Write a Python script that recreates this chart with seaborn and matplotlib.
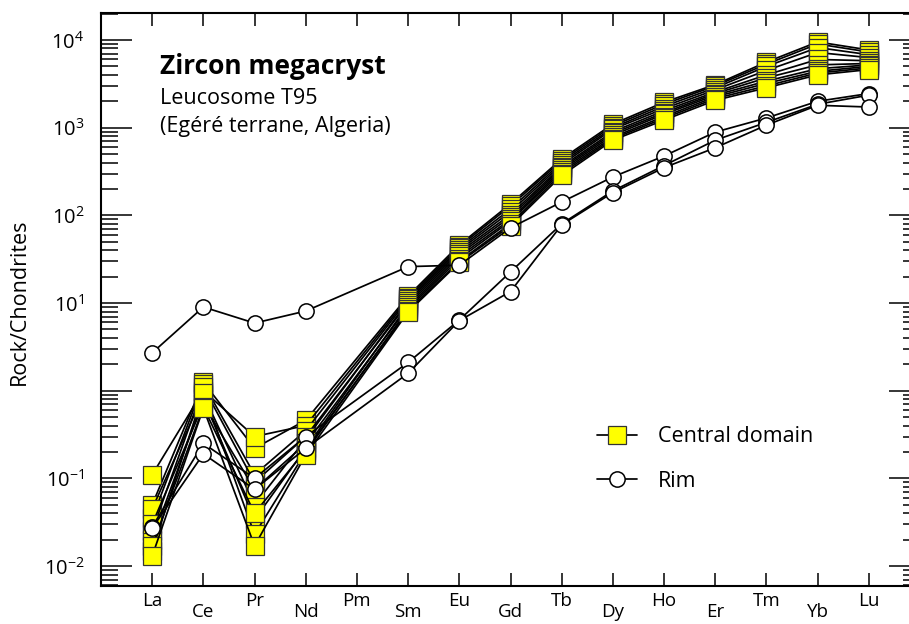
import numpy as np
import pandas as pd
import matplotlib
matplotlib.use("Agg")
import matplotlib.pyplot as plt
from matplotlib.lines import Line2D
from matplotlib.ticker import LogLocator, FixedLocator, FixedFormatter, NullFormatter
import seaborn as sns

# ---------------- data ----------------
elements = ["La", "Ce", "Pr", "Nd", "Pm", "Sm", "Eu", "Gd", "Tb", "Dy", "Ho", "Er", "Tm", "Yb", "Lu"]
nan = np.nan

# Central domain analyses (chondrite-normalised)
central_1 = [0.05, 1.25, 0.22, 0.46, nan, 12.0, 46, 135, 440, 1100, 1950, 3100, 5600, 9500, 7700]
central_2 = [0.11, 1.00, 0.30, 0.40, nan, 11.5, 44, 128, 420, 1050, 1850, 3000, 5300, 9000, 7300]
central_3 = [0.035, 1.20, 0.11, 0.35, nan, 11.0, 42, 118, 400, 1000, 1750, 2850, 5000, 8200, 6800]
central_4 = [0.045, 0.90, 0.05, 0.28, nan, 10.5, 40, 110, 380, 960, 1650, 2700, 4500, 7200, 6300]
central_5 = [0.025, 1.10, 0.09, 0.30, nan, 10.0, 38, 102, 360, 900, 1560, 2550, 4000, 6000, 5800]
central_6 = [0.020, 0.80, 0.034, 0.22, nan, 9.5, 36, 96, 345, 860, 1480, 2450, 3700, 5200, 5400]
central_7 = [0.030, 0.70, 0.075, 0.25, nan, 9.0, 34, 90, 330, 820, 1420, 2350, 3400, 4700, 5200]
central_8 = [0.015, 0.95, 0.023, 0.20, nan, 8.6, 32, 86, 315, 780, 1340, 2250, 3200, 4400, 5000]
central_9 = [0.017, 0.65, 0.040, 0.21, nan, 8.2, 30, 80, 300, 750, 1280, 2150, 3000, 4200, 4800]
central_10 = [0.013, 0.63, 0.017, 0.185, nan, 7.9, 29, 76, 285, 720, 1220, 2050, 2850, 4000, 4600]

# Rim analyses
rim_1 = [2.7, 9.0, 5.9, 8.1, nan, 26, 27, 72, 142, 274, 475, 890, 1290, 2000, 2450]
rim_2 = [0.028, 0.25, 0.10, 0.30, nan, 2.1, 6.4, 22.6, 80, 190, 370, 720, 1150, 1850, 2350]
rim_3 = [0.027, 0.19, 0.075, 0.22, nan, 1.58, 6.3, 13.5, 78, 182, 350, 590, 1070, 1800, 1720]

central_sets = [central_1, central_2, central_3, central_4, central_5,
                central_6, central_7, central_8, central_9, central_10]
rim_sets = [rim_1, rim_2, rim_3]


def to_long(sets, prefix):
    rows = []
    for k, vals in enumerate(sets):
        for i, (el, v) in enumerate(zip(elements, vals)):
            if not np.isnan(v):
                rows.append({"sample": f"{prefix}{k}", "pos": i, "element": el, "value": v})
    return pd.DataFrame(rows)


df_c = to_long(central_sets, "c")
df_r = to_long(rim_sets, "r")

# ---------------- style ----------------
sns.set_style("ticks")
plt.rcParams["font.family"] = ["Open Sans", "DejaVu Sans"]
plt.rcParams["mathtext.fontset"] = "custom"
plt.rcParams["mathtext.rm"] = "Open Sans"
plt.rcParams["mathtext.it"] = "Open Sans:italic"
plt.rcParams["mathtext.bf"] = "Open Sans:bold"
plt.rcParams["text.color"] = "black"
plt.rcParams["axes.labelcolor"] = "black"
plt.rcParams["xtick.color"] = "black"
plt.rcParams["ytick.color"] = "black"

W, H = 909, 624
fig = plt.figure(figsize=(W / 100, H / 100), dpi=100)
left_px, right_px, top_px, bot_px = 101, 920, 13, 586
ax = fig.add_axes([left_px / W, 1 - bot_px / H, (right_px - left_px) / W, (bot_px - top_px) / H])

YELLOW = "#ffff00"
LW = 1.25

sns.lineplot(data=df_c, x="pos", y="value", units="sample", estimator=None,
             color="black", lw=LW, marker="s", markersize=12.5,
             markerfacecolor=YELLOW, markeredgecolor="#333333", markeredgewidth=0.9,
             legend=False, ax=ax)
sns.lineplot(data=df_r, x="pos", y="value", units="sample", estimator=None,
             color="black", lw=LW, marker="o", markersize=11,
             markerfacecolor="white", markeredgecolor="black", markeredgewidth=1.1,
             legend=False, ax=ax)

ax.set_yscale("log")
ax.set_xlim(-1, 15)
ax.set_ylim(10 ** -2.228, 10 ** 4.308)

# x ticks, alternating rows
even = [i for i in range(len(elements)) if i % 2 == 0]
odd = [i for i in range(len(elements)) if i % 2 == 1]
ax.xaxis.set_major_locator(FixedLocator(even))
ax.xaxis.set_major_formatter(FixedFormatter([elements[i] for i in even]))
ax.xaxis.set_minor_locator(FixedLocator(odd))
ax.xaxis.set_minor_formatter(FixedFormatter([elements[i] for i in odd]))
ax.tick_params(axis="x", which="both", direction="in", top=True, bottom=True,
               length=9.5, width=1.1, labelsize=13.5, colors="black")
ax.tick_params(axis="x", which="major", pad=4)
ax.tick_params(axis="x", which="minor", pad=12.5)

# y ticks
ax.yaxis.set_major_locator(FixedLocator([10.0 ** k for k in range(-2, 5)]))
ylabels = [r"$\mathregular{10^{%d}}$" % k if k != 0 else "" for k in range(-2, 5)]
ax.yaxis.set_major_formatter(FixedFormatter(ylabels))
ax.yaxis.set_minor_locator(LogLocator(base=10, subs=np.arange(2, 10), numticks=30))
ax.yaxis.set_minor_formatter(NullFormatter())
ax.tick_params(axis="y", which="major", direction="in", left=True, right=True,
               length=22, width=1.1, labelsize=14.5, pad=12)
ax.tick_params(axis="y", which="minor", direction="in", left=True, right=True,
               length=12, width=1.1)

for s in ax.spines.values():
    s.set_linewidth(1.5)
    s.set_color("black")

ax.set_xlabel("")
ax.set_ylabel("Rock/Chondrites", fontsize=15.5)
ax.yaxis.set_label_coords((30 - left_px) / (right_px - left_px),
                          (bot_px - 302) / (bot_px - top_px))

# annotation text
fig.text(160 / W, 1 - 74 / H, "Zircon megacryst", fontsize=19, fontweight="bold",
         va="baseline", ha="left")
fig.text(160 / W, 1 - 104 / H, "Leucosome T95", fontsize=15.5, va="baseline", ha="left")
fig.text(160 / W, 1 - 132 / H, "(Egéré terrane, Algeria)", fontsize=15.5, va="baseline", ha="left")

# legend
h_c = Line2D([], [], color="black", lw=LW, marker="s", markersize=12.5,
             markerfacecolor=YELLOW, markeredgecolor="#333333", markeredgewidth=0.9)
h_r = Line2D([], [], color="black", lw=LW, marker="o", markersize=11,
             markerfacecolor="white", markeredgecolor="black", markeredgewidth=1.1)
ax.legend([h_c, h_r], ["Central domain", "Rim"], loc="center left",
          bbox_to_anchor=(597 / W, 1 - 459 / H), bbox_transform=fig.transFigure,
          frameon=False, fontsize=15.5, handlelength=1.85, handletextpad=1.0,
          labelspacing=1.1, borderpad=0, borderaxespad=0, numpoints=1)

fig.savefig("out.png", dpi=100, facecolor="white")
